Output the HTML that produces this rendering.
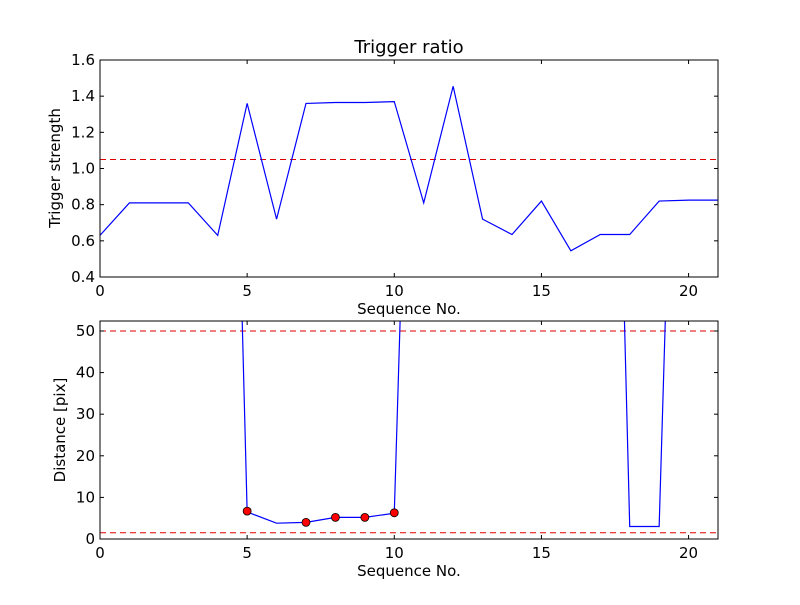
<!DOCTYPE html>
<html><head><meta charset="utf-8"><style>
body{margin:0;background:#fff;font-family:"Liberation Sans",sans-serif}
svg text{font-family:"DejaVu Sans","Liberation Sans",sans-serif}
</style></head><body>
<svg id="c" width="800" height="600" xmlns="http://www.w3.org/2000/svg">
<defs>
<clipPath id="cp1"><rect x="100" y="60" width="618" height="217"/></clipPath>
<clipPath id="cp2"><rect x="100" y="321" width="618" height="218"/></clipPath>
</defs>
</svg>
<script>
const seqTop=[0,1,2,3,4,5,6,7,8,9,10,11,12,13,14,15,16,17,18,19,20,21];
const strength=[0.63,0.81,0.81,0.81,0.63,1.36,0.72,1.36,1.365,1.365,1.37,0.81,1.455,0.72,0.635,0.82,0.545,0.635,0.635,0.82,0.825,0.825];
const strengthThreshold=1.05;
const seqBot=[4,5,6,7,8,9,10,11,17,18,19,20];
const distance=[280,6.5,3.8,4.0,5.2,5.2,6.2,240,280,3,3,240];
const dotSeq=[5,7,8,9,10];
const dotDist=[6.7,4.0,5.2,5.2,6.3];
const distThresholds=[50,1.5];
const xTicks=[0,5,10,15,20];
const yTicksTop=[0.4,0.6,0.8,1.0,1.2,1.4,1.6];
const yTicksBot=[0,10,20,30,40,50];

const svg=document.getElementById('c');
const NS='http://www.w3.org/2000/svg';
function mk(tag,attrs,parent){const e=document.createElementNS(NS,tag);for(const k in attrs)e.setAttribute(k,attrs[k]);(parent||svg).appendChild(e);return e;}
const L=100,R=718;
const sx=v=>L+(v-0)/(21-0)*(R-L);
const syT=v=>277-(v-0.4)/(1.6-0.4)*217;
const syB=v=>539-(v-0)/(52.4-0)*218;

function axes(top,bot,yTicks,ysc,fmt,name){
  const g=mk('g',{});
  
  
  xTicks.forEach(t=>{
    const x=sx(t);
    mk('line',{x1:x,x2:x,y1:bot,y2:bot-4,stroke:'#000'},g);
    mk('line',{x1:x,x2:x,y1:top,y2:top+4,stroke:'#000'},g);
    const tx=mk('text',{x:x,y:bot+19,'text-anchor':'middle','font-size':15},g);
    tx.textContent=t;
    
    
  });
  yTicks.forEach(t=>{
    const y=ysc(t);
    mk('line',{x1:L,x2:L+4,y1:y,y2:y,stroke:'#000'},g);
    mk('line',{x1:R,x2:R-4,y1:y,y2:y,stroke:'#000'},g);
    const tx=mk('text',{x:L-5,y:y+5,'text-anchor':'end','font-size':15},g);
    tx.textContent=fmt(t);
    
    
  });
  const xl=mk('text',{x:(L+R)/2,y:bot+37,'text-anchor':'middle','font-size':15},g);
  xl.textContent='Sequence No.';
  
  
  return g;
}
// Top panel
mk('rect',{x:L,y:60,width:R-L,height:217,fill:'#fff'});
const t1=mk('g',{'clip-path':'url(#cp1)'});
const dl=mk('line',{x1:L,x2:R,y1:syT(strengthThreshold),y2:syT(strengthThreshold),stroke:'#d00','stroke-dasharray':'6,4'},t1);


const p1=mk('polyline',{points:seqTop.map((s,i)=>sx(s)+','+syT(strength[i])).join(' '),fill:'none',stroke:'#00f','stroke-width':1.2},t1);


mk('rect',{x:L,y:60,width:R-L,height:217,fill:'none',stroke:'#000'});
axes(60,277,yTicksTop,syT,v=>v.toFixed(1),'top-axes');
const title=mk('text',{x:409,y:53,'text-anchor':'middle','font-size':18});
title.textContent='Trigger ratio';


const yl1=mk('text',{x:0,y:0,'text-anchor':'middle','font-size':15,transform:'translate(60,168) rotate(-90)'});
yl1.textContent='Trigger strength';



// Bottom panel
const t2=mk('g',{'clip-path':'url(#cp2)'});
distThresholds.forEach(v=>{
  const l=mk('line',{x1:L,x2:R,y1:syB(v),y2:syB(v),stroke:'#d00','stroke-dasharray':'6,4'},t2);
  
  
});
const p2=mk('polyline',{points:seqBot.map((s,i)=>sx(s)+','+syB(distance[i])).join(' '),fill:'none',stroke:'#00f','stroke-width':1.2},t2);


dotSeq.forEach((s,i)=>{
  const c=mk('circle',{cx:sx(s),cy:syB(dotDist[i]),r:4,fill:'#f00',stroke:'#000','stroke-width':0.8},t2);
  
  
});
mk('rect',{x:L,y:321,width:R-L,height:218,fill:'none',stroke:'#000'});
axes(321,539,yTicksBot,syB,v=>String(v),'bottom-axes');
const yl2=mk('text',{x:0,y:0,'text-anchor':'middle','font-size':15,transform:'translate(65,430) rotate(-90)'});
yl2.textContent='Distance [pix]';


</script>
</body></html>
